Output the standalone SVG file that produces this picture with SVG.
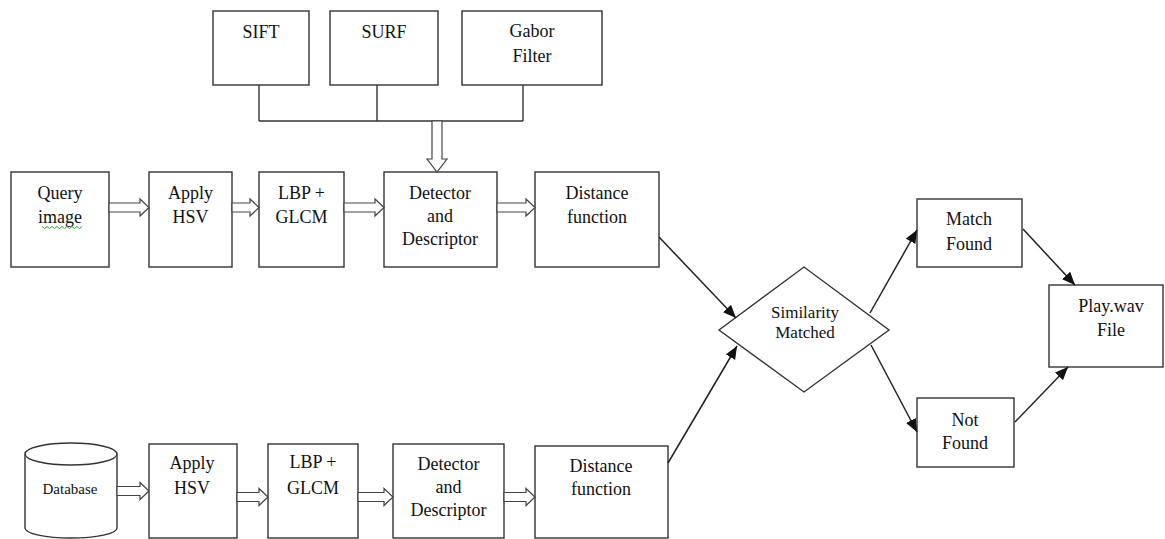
<svg xmlns="http://www.w3.org/2000/svg" width="1165" height="539" viewBox="0 0 1165 539">
<style>
.box{fill:#fff;stroke:#333;stroke-width:1.4}
.t{font-family:'Liberation Serif','Times New Roman','DejaVu Serif',serif;font-size:18px;fill:#111;text-anchor:middle}
.hol{fill:#fff;stroke:#444;stroke-width:1.2}
.ln{fill:none;stroke:#333;stroke-width:1.4}
.ar{fill:none;stroke:#222;stroke-width:1.5;marker-end:url(#ah)}
</style>
<defs>
<marker id="ah" markerUnits="userSpaceOnUse" markerWidth="14" markerHeight="12" refX="13" refY="5.5" orient="auto">
<path d="M0,0 L13,5.5 L0,11 z" fill="#111"/>
</marker>
</defs>
<rect width="1165" height="539" fill="#fff"/>

<g id="sift"><rect class="box" x="213" y="11" width="96" height="74"/><text class="t" x="261" y="38">SIFT</text></g>
<g id="surf"><rect class="box" x="330" y="11" width="108" height="74"/><text class="t" x="384" y="38">SURF</text></g>
<g id="gabor"><rect class="box" x="462" y="11" width="140" height="74"/><text class="t" x="532" y="37">Gabor</text><text class="t" x="532" y="62">Filter</text></g>

<g id="query"><rect class="box" x="11" y="172" width="98" height="95"/><text class="t" x="60" y="199">Query</text><text class="t" x="60" y="223">image</text>
<path d="M42,226.5 l2.5,2 l2.5,-2 l2.5,2 l2.5,-2 l2.5,2 l2.5,-2 l2.5,2 l2.5,-2 l2.5,2 l2.5,-2 l2.5,2 l2.5,-2 l2.5,2 l2.5,-2 l2.5,2 l2.5,-2" fill="none" stroke="#3a3" stroke-width="1"/></g>
<g id="hsv1"><rect class="box" x="149" y="172" width="83" height="95"/><text class="t" x="190.5" y="199">Apply</text><text class="t" x="190.5" y="223">HSV</text></g>
<g id="lbp1"><rect class="box" x="259" y="172" width="85" height="95"/><text class="t" x="301.5" y="199">LBP +</text><text class="t" x="301.5" y="223">GLCM</text></g>
<g id="det1"><rect class="box" x="384" y="172" width="113" height="95"/><text class="t" x="440" y="199">Detector</text><text class="t" x="440" y="222">and</text><text class="t" x="440" y="245">Descriptor</text></g>
<g id="dist1"><rect class="box" x="535" y="172" width="124" height="95"/><text class="t" x="597" y="199">Distance</text><text class="t" x="597" y="223">function</text></g>

<g id="database"><path class="box" d="M25,454 L25,528 A46,10 0 0 0 117,528 L117,454"/><ellipse class="box" cx="71" cy="454" rx="46" ry="11"/><text class="t" x="70" y="494" style="font-size:15px">Database</text></g>
<g id="hsv2"><rect class="box" x="149" y="444" width="88" height="94"/><text class="t" x="192" y="469">Apply</text><text class="t" x="192" y="494">HSV</text></g>
<g id="lbp2"><rect class="box" x="268" y="444" width="90" height="94"/><text class="t" x="313" y="468">LBP +</text><text class="t" x="313" y="494">GLCM</text></g>
<g id="det2"><rect class="box" x="393" y="444" width="111" height="94"/><text class="t" x="448.5" y="470">Detector</text><text class="t" x="448.5" y="493">and</text><text class="t" x="448.5" y="516">Descriptor</text></g>
<g id="dist2"><rect class="box" x="535" y="446" width="133" height="92"/><text class="t" x="601" y="472">Distance</text><text class="t" x="601" y="495">function</text></g>

<g id="similarity"><polygon class="box" points="719,330 804,267 889,330 804,392"/><text class="t" x="805" y="318" style="font-size:17px">Similarity</text><text class="t" x="805" y="338" style="font-size:17px">Matched</text></g>
<g id="match"><rect class="box" x="917" y="199" width="105" height="68"/><text class="t" x="969" y="225">Match</text><text class="t" x="969" y="250">Found</text></g>
<g id="notfound"><rect class="box" x="917" y="398" width="97" height="69"/><text class="t" x="965" y="426">Not</text><text class="t" x="965" y="449">Found</text></g>
<g id="play"><rect class="box" x="1049" y="285" width="114" height="82"/><text class="t" x="1111" y="312">Play.wav</text><text class="t" x="1111" y="336">File</text></g>

<g id="connectors">
<path class="ln" d="M259,85 V121 M377,85 V121 M523,85 V121 M259,121 H523"/>
<polygon class="hol" points="432,121 442,121 442,159 447,159 437,172 427,159 432,159"/>
<polygon class="hol" points="109,203 140,203 140,199 149,207.5 140,216 140,212 109,212"/>
<polygon class="hol" points="232,203 250,203 250,199 259,207.5 250,216 250,212 232,212"/>
<polygon class="hol" points="344,203 375,203 375,199 384,207.5 375,216 375,212 344,212"/>
<polygon class="hol" points="497,203 526,203 526,199 535,207.5 526,216 526,212 497,212"/>
<polygon class="hol" points="117,486.5 140,486.5 140,482.5 149,491 140,499.5 140,495.5 117,495.5"/>
<polygon class="hol" points="237,492.5 259,492.5 259,488.5 268,497 259,505.5 259,501.5 237,501.5"/>
<polygon class="hol" points="358,492.5 384,492.5 384,488.5 393,497 384,505.5 384,501.5 358,501.5"/>
<polygon class="hol" points="504,492.5 526,492.5 526,488.5 535,497 526,505.5 526,501.5 504,501.5"/>
<line class="ar" x1="659" y1="237" x2="736" y2="318"/>
<line class="ar" x1="668" y1="463" x2="737" y2="346"/>
<line class="ar" x1="870" y1="313" x2="917" y2="230"/>
<line class="ar" x1="871" y1="345" x2="917" y2="432"/>
<line class="ar" x1="1023" y1="229" x2="1075" y2="285"/>
<line class="ar" x1="1015" y1="422" x2="1068" y2="367"/>
</g>
</svg>
